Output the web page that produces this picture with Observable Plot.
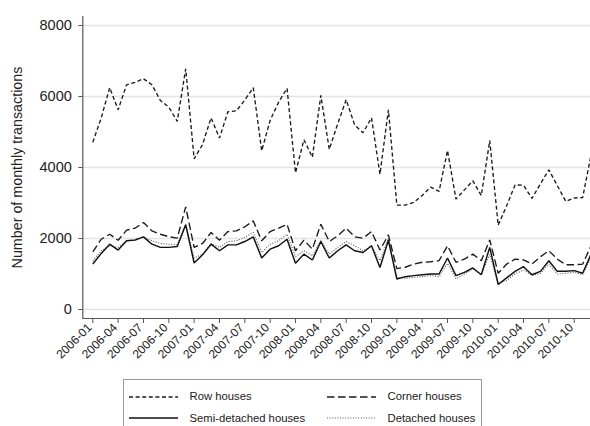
<!DOCTYPE html>
<html>
<head>
<meta charset="utf-8">
<script src="https://cdn.jsdelivr.net/npm/d3@7"></script>
<script src="https://cdn.jsdelivr.net/npm/@observablehq/plot@0.6"></script>
<style>
  html, body { margin: 0; padding: 0; background: #fff; }
  #wrap { position: relative; width: 590px; height: 426px; overflow: hidden; background: #fff;
          font-family: "Liberation Sans", Arial, Helvetica, sans-serif; }
  #legend { position: absolute; left: 122.5px; top: 379px; width: 359px; height: 62px;
            border: 1px solid #9a9a9a; box-sizing: border-box; }
  .lg { position: absolute; font-size: 11.3px; color: #1a1a1a; line-height: 12px; white-space: nowrap; }
  .sw { position: absolute; }
</style>
</head>
<body>
<div id="wrap">
  <div id="chart"></div>
  <div id="legend"></div>
</div>
<script>
// Month categories 2006-01 .. 2010-12
const months = [];
for (let y = 2006; y <= 2010; y++) for (let m = 1; m <= 12; m++) months.push(`${y}-${String(m).padStart(2, "0")}`);

const seriesNames = ["Row houses", "Corner houses", "Semi-detached houses", "Detached houses"];

const rowHouses = [4713, 5400, 6250, 5625, 6330, 6400, 6500, 6330, 5890, 5700, 5300, 6780,
  4245, 4650, 5400, 4830, 5570, 5595, 5900, 6250, 4470, 5330, 5840, 6230,
  3850, 4780, 4290, 6030, 4510, 5230, 5910, 5200, 4980, 5400, 3810, 5625,
  2940, 2940, 3020, 3210, 3450, 3330, 4480, 3110, 3370, 3625, 3210, 4760,
  2375, 2920, 3510, 3500, 3130, 3540, 3935, 3490, 3045, 3140, 3150, 4360];

const cornerHouses = [1626, 1980, 2120, 1950, 2235, 2290, 2450, 2215, 2120, 2050, 2010, 2890,
  1750, 1860, 2170, 1950, 2195, 2215, 2330, 2495, 1935, 2195, 2290, 2400,
  1655, 1955, 1700, 2400, 1915, 2075, 2290, 2050, 2010, 2195, 1675, 2100,
  1150, 1190, 1280, 1330, 1345, 1375, 1795, 1330, 1420, 1560, 1375, 1960,
  1020, 1280, 1420, 1395, 1280, 1485, 1655, 1420, 1260, 1260, 1280, 1795];

const semiDetached = [1280, 1580, 1840, 1675, 1935, 1955, 2045, 1840, 1750, 1750, 1775, 2385,
  1310, 1540, 1840, 1655, 1820, 1820, 1915, 2045, 1450, 1700, 1795, 1980,
  1300, 1560, 1395, 1915, 1450, 1655, 1820, 1655, 1605, 1795, 1185, 1950,
  860, 925, 955, 980, 1000, 1000, 1450, 955, 1045, 1170, 980, 1750,
  705, 890, 1075, 1205, 980, 1075, 1375, 1075, 1075, 1095, 1020, 1560];

const detachedHouses = [1375, 1655, 1795, 1750, 1935, 1980, 2045, 1935, 1860, 1840, 1820, 2400,
  1450, 1560, 1860, 1750, 1915, 1935, 2030, 2170, 1605, 1840, 1935, 2120,
  1485, 1655, 1515, 1955, 1560, 1750, 1915, 1795, 1655, 1795, 1375, 2000,
  900, 880, 905, 925, 955, 925, 1300, 860, 1000, 1140, 980, 1550,
  740, 815, 1000, 1110, 955, 1020, 1280, 1000, 1020, 1045, 980, 1465];

const yTicks = [0, 2000, 4000, 6000, 8000];
const xTickLabels = ["2006-01","2006-04","2006-07","2006-10","2007-01","2007-04","2007-07","2007-10",
  "2008-01","2008-04","2008-07","2008-10","2009-01","2009-04","2009-07","2009-10",
  "2010-01","2010-04","2010-07","2010-10"];
const xTicks = xTickLabels.map(l => months.indexOf(l));

const styles = {
  "Row houses": {stroke: "#1a1a1a", strokeWidth: 1.35, strokeDasharray: "4,2.6"},
  "Corner houses": {stroke: "#1a1a1a", strokeWidth: 1.35, strokeDasharray: "7.5,3.5"},
  "Semi-detached houses": {stroke: "#111", strokeWidth: 1.45, strokeDasharray: null},
  "Detached houses": {stroke: "#555", strokeWidth: 1.1, strokeDasharray: "1,1.6"}
};
const values = {
  "Row houses": rowHouses,
  "Corner houses": cornerHouses,
  "Semi-detached houses": semiDetached,
  "Detached houses": detachedHouses
};
const tidy = name => values[name].map((v, i) => ({i, v, name}));

const xDomain = [-1.184, 58.93];
const yDomain = [-253.5, 8253.5];

const lineMarks = ["Detached houses", "Semi-detached houses", "Corner houses", "Row houses"].map(name =>
  Plot.line(tidy(name), {x: "i", y: "v", ...Object.fromEntries(Object.entries(styles[name]).filter(([k, v]) => v != null)),
    strokeLinejoin: "miter", strokeLinecap: "butt"})
);

const plot = Plot.plot({
  width: 590,
  height: 372,
  marginLeft: 82.3,
  marginRight: 0,
  marginTop: 16,
  marginBottom: 54,
  style: {fontFamily: "'Liberation Sans', Arial, Helvetica, sans-serif", background: "white", color: "#222"},
  x: {type: "linear", domain: xDomain},
  y: {type: "linear", domain: yDomain},
  marks: [
    Plot.gridY(yTicks, {stroke: "#e4e4e4", strokeOpacity: 1, strokeWidth: 1.3}),
    Plot.axisY(yTicks, {tickSize: 4, tickPadding: 7, fontSize: 14.5, tickFormat: d => String(d),
      label: "Number of monthly transactions", labelAnchor: "center", labelArrow: "none", labelOffset: 71, stroke: "#555"}),
    Plot.axisX(xTicks, {tickSize: 5, tickPadding: 3, tickRotate: -45, fontSize: 12, tickFormat: i => months[i],
      label: null, stroke: "#555"}),
    Plot.ruleX([xDomain[0]], {stroke: "#555", strokeWidth: 1.2}),
    Plot.ruleY([yDomain[0]], {stroke: "#555", strokeWidth: 1.2}),
    ...lineMarks
  ]
});
document.getElementById("chart").appendChild(plot);

// y-axis label font size
plot.querySelectorAll("g[aria-label='y-axis label'] text").forEach(t => t.setAttribute("font-size", 14.3));
// nudge rotated x tick labels slightly left in screen space
plot.querySelectorAll("text").forEach(t => {
  if (xTickLabels.includes(t.textContent)) {
    const prev = t.getAttribute("transform") || "";
    t.setAttribute("transform", `translate(-3,-1) ${prev}`);
  }
});

// Legend
const legend = document.getElementById("legend");
const entries = [
  {name: "Row houses", sx: 5, tx: 66, cy: 16.5},
  {name: "Corner houses", sx: 203.5, tx: 264, cy: 16.5},
  {name: "Semi-detached houses", sx: 5, tx: 66, cy: 38},
  {name: "Detached houses", sx: 203.5, tx: 264, cy: 38}
];
for (const e of entries) {
  const s = styles[e.name];
  const svg = document.createElementNS("http://www.w3.org/2000/svg", "svg");
  svg.setAttribute("class", "sw");
  svg.setAttribute("width", 50); svg.setAttribute("height", 6);
  svg.style.left = e.sx + "px"; svg.style.top = (e.cy - 3) + "px";
  const ln = document.createElementNS("http://www.w3.org/2000/svg", "line");
  ln.setAttribute("x1", 0); ln.setAttribute("x2", 49); ln.setAttribute("y1", 3); ln.setAttribute("y2", 3);
  ln.setAttribute("stroke", s.stroke); ln.setAttribute("stroke-width", s.strokeWidth);
  if (s.strokeDasharray) ln.setAttribute("stroke-dasharray", s.strokeDasharray);
  svg.appendChild(ln);
  legend.appendChild(svg);
  const t = document.createElement("div");
  t.className = "lg"; t.textContent = e.name;
  t.style.left = e.tx + "px"; t.style.top = (e.cy - 6.5) + "px";
  legend.appendChild(t);
}
</script>
</body>
</html>
